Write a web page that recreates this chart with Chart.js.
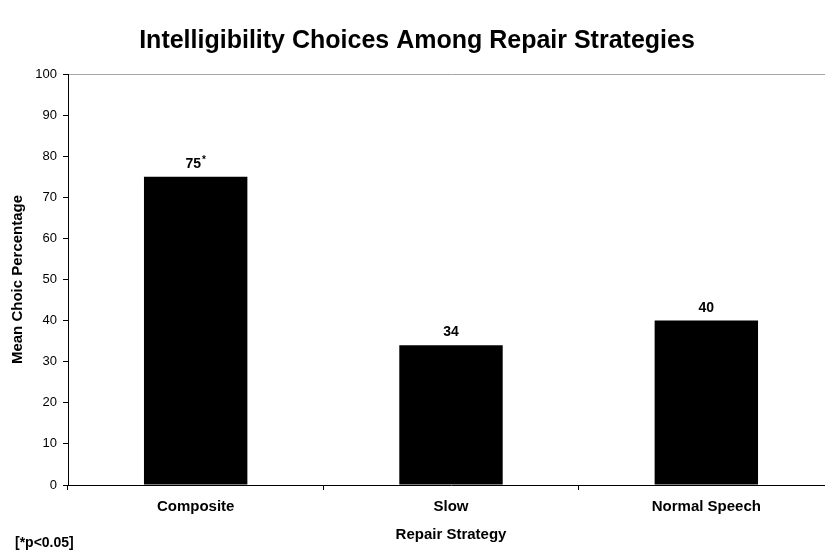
<!DOCTYPE html>
<html><head><meta charset="utf-8">
<script src="https://cdn.jsdelivr.net/npm/chart.js@4"></script>
<style>
html,body{margin:0;padding:0;background:#fff;overflow:hidden;width:825px;height:550px}
#wrap{position:relative;width:825px;height:550px;overflow:hidden;background:#fff}
canvas{position:absolute;left:0;top:0}
</style></head><body>
<div id="wrap"><canvas id="c" width="834" height="550"></canvas></div>
<script>
const categories = ['Composite', 'Slow', 'Normal Speech'];
const meanChoice = [75, 34, 40];
const significance = ['*', '', ''];
const footnote = '[*p<0.05]';

const FONT = "'Liberation Sans', Arial, sans-serif";
Chart.defaults.font.family = FONT;
Chart.defaults.color = '#000';

const valueLabels = {
  id: 'valueLabels',
  afterDatasetsDraw(chart) {
    const ctx = chart.ctx;
    const meta = chart.getDatasetMeta(0);
    meta.data.forEach((bar, i) => {
      const main = String(meanChoice[i]);
      const sup = significance[i];
      ctx.save();
      ctx.fillStyle = '#000';
      ctx.textBaseline = 'alphabetic';
      ctx.textAlign = 'left';
      ctx.font = 'bold 14px ' + FONT;
      const w1 = ctx.measureText(main).width;
      ctx.font = 'bold 10px ' + FONT;
      const w2 = sup ? ctx.measureText(sup).width + 1 : 0;
      const x0 = bar.x - (w1 + w2) / 2;
      const yb = bar.y - 9;
      ctx.font = 'bold 14px ' + FONT;
      ctx.fillText(main, x0, yb);
      if (sup) {
        ctx.font = 'bold 10px ' + FONT;
        ctx.fillText(sup, x0 + w1 + 1, yb - 5);
      }
      ctx.restore();
    });
  }
};

const footnotePlugin = {
  id: 'footnote',
  afterDraw(chart) {
    const ctx = chart.ctx;
    ctx.save();
    ctx.fillStyle = '#000';
    ctx.font = 'bold 14px ' + FONT;
    ctx.textAlign = 'left';
    ctx.textBaseline = 'alphabetic';
    ctx.fillText(footnote, 15, 547);
    ctx.restore();
  }
};

new Chart(document.getElementById('c'), {
  type: 'bar',
  data: {
    labels: categories,
    datasets: [{
      data: meanChoice,
      backgroundColor: '#000',
      borderWidth: 0,
      categoryPercentage: 1,
      barPercentage: 0.405
    }]
  },
  options: {
    responsive: false,
    animation: false,
    devicePixelRatio: 1,
    layout: { padding: 0 },
    plugins: {
      legend: { display: false },
      tooltip: { enabled: false },
      title: {
        display: true,
        text: 'Intelligibility Choices Among Repair Strategies',
        color: '#000',
        font: { size: 25, weight: 'bold' },
        padding: { top: 26, bottom: 18 }
      }
    },
    scales: {
      x: {
        grid: { drawOnChartArea: false, color: '#000', tickLength: 5, offset: true },
        border: { color: '#000', width: 1 },
        ticks: { font: { size: 15, weight: 'bold' }, padding: 8, color: '#000' },
        title: { display: true, text: 'Repair Strategy', color: '#000', font: { size: 15, weight: 'bold' }, padding: { top: 0, bottom: 6 } },
        afterFit(s) { s.height = 65; }
      },
      y: {
        min: 0, max: 100,
        ticks: { stepSize: 10, font: { size: 13 }, padding: 6, color: '#000' },
        grid: {
          color: c => (c.tick && c.tick.value === 100) ? '#a6a6a6' : 'rgba(0,0,0,0)',
          tickColor: '#000',
          tickLength: 5
        },
        border: { color: '#000', width: 1 },
        title: { display: true, text: 'Mean Choic Percentage', color: '#000', font: { size: 15, weight: 'bold' }, padding: { top: 9, bottom: 0 } },
        afterFit(s) { s.width = 68; }
      }
    }
  },
  plugins: [valueLabels, footnotePlugin]
});
</script>
</body></html>
